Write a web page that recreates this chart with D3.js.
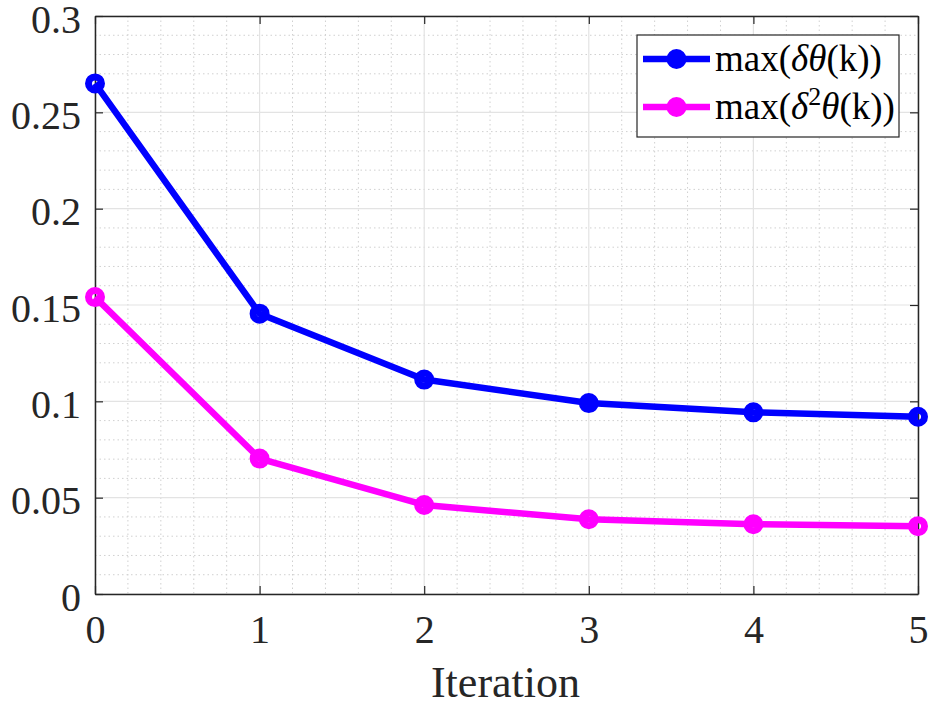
<!DOCTYPE html>
<html><head><meta charset="utf-8">
<script src="https://cdn.jsdelivr.net/npm/d3@7"></script>
<style>body{margin:0;background:#fff}svg{display:block}</style>
</head><body>
<svg id="c" width="929" height="707"></svg>
<script>
const iterations = [0, 1, 2, 3, 4, 5];
const maxDeltaTheta = [0.265, 0.1455, 0.1113, 0.0991, 0.0943, 0.0920];
const maxDelta2Theta = [0.1541, 0.0703, 0.0462, 0.0388, 0.0362, 0.0352];
const xTicks = [0, 1, 2, 3, 4, 5];
const yTicks = [0, 0.05, 0.1, 0.15, 0.2, 0.25, 0.3];
const seriesNames = ["max(δθ(k))", "max(δ²θ(k))"];
const seriesColors = ["#0000ff", "#ff00ff"];

const svg = d3.select("#c");
const L = 95, R = 918, T = 16, B = 594;
const x = d3.scaleLinear().domain([0, 5]).range([L, R]);
const y = d3.scaleLinear().domain([0, 0.3]).range([B, T]);
const font = "'Liberation Serif', 'Times New Roman', serif";
const axisColor = "#262626";

// minor grid
const g = svg.append("g");
d3.range(0, 5.0001, 0.2).forEach(v => {
  if (Math.abs(v - Math.round(v)) > 1e-6)
    g.append("line").attr("x1", x(v)).attr("x2", x(v)).attr("y1", T).attr("y2", B)
      .attr("stroke", "#d0d0d0").attr("stroke-width", 1).attr("stroke-dasharray", "1.5,3");
});
d3.range(0, 0.3001, 0.01).forEach(v => {
  if (Math.abs(v * 20 - Math.round(v * 20)) > 1e-6)
    g.append("line").attr("y1", y(v)).attr("y2", y(v)).attr("x1", L).attr("x2", R)
      .attr("stroke", "#d0d0d0").attr("stroke-width", 1).attr("stroke-dasharray", "1.5,3");
});
// major grid
xTicks.forEach(v => g.append("line").attr("x1", x(v)).attr("x2", x(v)).attr("y1", T).attr("y2", B)
  .attr("stroke", "#e3e3e3").attr("stroke-width", 1.2));
yTicks.forEach(v => g.append("line").attr("y1", y(v)).attr("y2", y(v)).attr("x1", L).attr("x2", R)
  .attr("stroke", "#e3e3e3").attr("stroke-width", 1.2));

// axes
const ax = svg.append("g").attr("transform", `translate(0,${B})`)
  .call(d3.axisBottom(x).tickValues(xTicks).tickSizeInner(-8).tickSizeOuter(0).tickPadding(22).tickFormat(d3.format("d")));
const ay = svg.append("g").attr("transform", `translate(${L},0)`)
  .call(d3.axisLeft(y).tickValues(yTicks).tickSizeInner(-8).tickSizeOuter(0).tickPadding(14).tickFormat(d => d === 0 ? "0" : String(+d.toFixed(2))));
const axT = svg.append("g").attr("transform", `translate(0,${T})`)
  .call(d3.axisTop(x).tickValues(xTicks).tickSizeInner(-8).tickSizeOuter(0).tickFormat(""));
const ayR = svg.append("g").attr("transform", `translate(${R},0)`)
  .call(d3.axisRight(y).tickValues(yTicks).tickSizeInner(-8).tickSizeOuter(0).tickFormat(""));
[ax, ay, axT, ayR].forEach(a => {
  a.select(".domain").attr("stroke", axisColor).attr("stroke-width", 1.5);
  a.selectAll(".tick line").attr("stroke", axisColor).attr("stroke-width", 1.2);
  a.selectAll("text").attr("fill", "#262626").style("font-family", font).style("font-size", "40px");
});
ax.selectAll("text").attr("y", 49).attr("dy", 0);
ay.selectAll("text").attr("dy", "0.4em");

svg.append("text").attr("x", (L + R) / 2 - 1).attr("y", 697).attr("text-anchor", "middle")
  .style("font-family", font).style("font-size", "44px").attr("fill", "#262626").text("Iteration");

// series
const series = [maxDeltaTheta, maxDelta2Theta];
const line = d3.line().x((d, i) => x(iterations[i])).y(d => y(d));
series.forEach((s, k) => {
  svg.append("path").datum(s).attr("d", line).attr("fill", "none")
    .attr("stroke", seriesColors[k]).attr("stroke-width", 6.5).attr("stroke-linejoin", "round");
  svg.selectAll(null).data(s).enter().append("circle")
    .attr("cx", (d, i) => x(iterations[i])).attr("cy", d => y(d)).attr("r", 6.5)
    .attr("fill", "none").attr("stroke", seriesColors[k]).attr("stroke-width", 7);
});

// legend
const lg = svg.append("g");
lg.append("rect").attr("x", 637).attr("y", 35).attr("width", 262).attr("height", 102)
  .attr("fill", "#fff").attr("stroke", axisColor).attr("stroke-width", 1.2);
const rowsY = [59, 107];
rowsY.forEach((ry, k) => {
  lg.append("line").attr("x1", 643).attr("x2", 710).attr("y1", ry).attr("y2", ry)
    .attr("stroke", seriesColors[k]).attr("stroke-width", 6.5);
  lg.append("circle").attr("cx", 676.5).attr("cy", ry).attr("r", 6.5)
    .attr("fill", seriesColors[k]).attr("stroke", seriesColors[k]).attr("stroke-width", 7);
});
function legendText(yPos, sup) {
  const t = lg.append("text").attr("x", 715).attr("y", yPos + 12)
    .style("font-family", font).style("font-size", "37px").attr("fill", "#000");
  t.append("tspan").text("max(");
  t.append("tspan").style("font-style", "italic").text("δ");
  if (sup) t.append("tspan").attr("dy", -14).style("font-size", "26px").text("2");
  t.append("tspan").attr("dy", sup ? 14 : 0).style("font-style", "italic").text("θ");
  t.append("tspan").text("(k))");
}
legendText(rowsY[0], false);
legendText(rowsY[1], true);
</script>
</body></html>
